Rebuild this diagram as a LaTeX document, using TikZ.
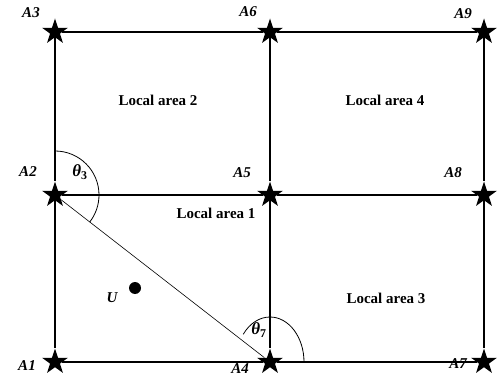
\documentclass[tikz,border=0pt]{standalone}
\usepackage{fontspec}
\setmainfont{Liberation Serif}
\usepackage{tikz}
\usetikzlibrary{shapes.geometric}

\begin{document}
\begin{tikzpicture}[
	x=1pt, y=-1pt,
	font=\fontsize{15}{17}\selectfont\bfseries,
	station/.style={star, star points=5, star point ratio=2.6, fill, inner sep=0pt, minimum size=27pt},
	alabel/.style={font=\fontsize{15}{17}\selectfont\bfseries\itshape},
	grid/.style={line width=1.6pt},
	dot/.style={circle, fill, inner sep=0pt, minimum size=12pt}
	]
	\useasboundingbox (0,0) rectangle (500,379);

	% Anchor stars
	\node[station] (a1) at (55,362) {};
	\node[station] (a2) at (55,195) {};
	\node[station] (a3) at (55,32) {};
	\node[station] (a4) at (270,362) {};
	\node[station] (a5) at (270,195) {};
	\node[station] (a6) at (270,32) {};
	\node[station] (a7) at (484,362) {};
	\node[station] (a8) at (484,195) {};
	\node[station] (a9) at (484,32) {};

	% Grid lines
	\draw[grid] (a1) -- (a2) -- (a3);
	\draw[grid] (a4) -- (a5) -- (a6);
	\draw[grid] (a7) -- (a8) -- (a9);
	\draw[grid] (a1) -- (a4) -- (a7);
	\draw[grid] (a2) -- (a5) -- (a8);
	\draw[grid] (a3) -- (a6) -- (a9);

	% Diagonal and angles
	\draw[line width=0.6pt] (a2) -- (a4);
	\draw[line width=0.8pt] (a2.center) ++(0,-44) arc[start angle=-90, end angle=38, radius=44];
	\draw[line width=0.8pt] (a4.center) ++(34,0) arc[start angle=0, end angle=-142, x radius=34, y radius=45];
	\node (th3) at (80,172) {\fontsize{17}{19}\selectfont\itshape θ\textsubscript{\upshape 3}};
	\node (th7) at (259,330) {\fontsize{17}{19}\selectfont\itshape θ\textsubscript{\upshape 7}};

	% Anchor labels
	\node[alabel] (l1) at (27,366) {A1};
	\node[alabel] (l2) at (28,172) {A2};
	\node[alabel] (l3) at (31,13) {A3};
	\node[alabel] (l4) at (240,369) {A4};
	\node[alabel] (l5) at (242,173) {A5};
	\node[alabel] (l6) at (248,12) {A6};
	\node[alabel] (l7) at (458,364) {A7};
	\node[alabel] (l8) at (453,173) {A8};
	\node[alabel] (l9) at (463,14) {A9};

	% Local areas
	\node (la2) at (158,100) {Local area 2};
	\node (la4) at (385,100) {Local area 4};
	\node (la1) at (216,213) {Local area 1};
	\node (la3) at (386,298) {Local area 3};

	% User
	\node[dot] (u) at (135,288) {};
	\node[alabel] (ul) at (112,298) {U};
\end{tikzpicture}
\end{document}
